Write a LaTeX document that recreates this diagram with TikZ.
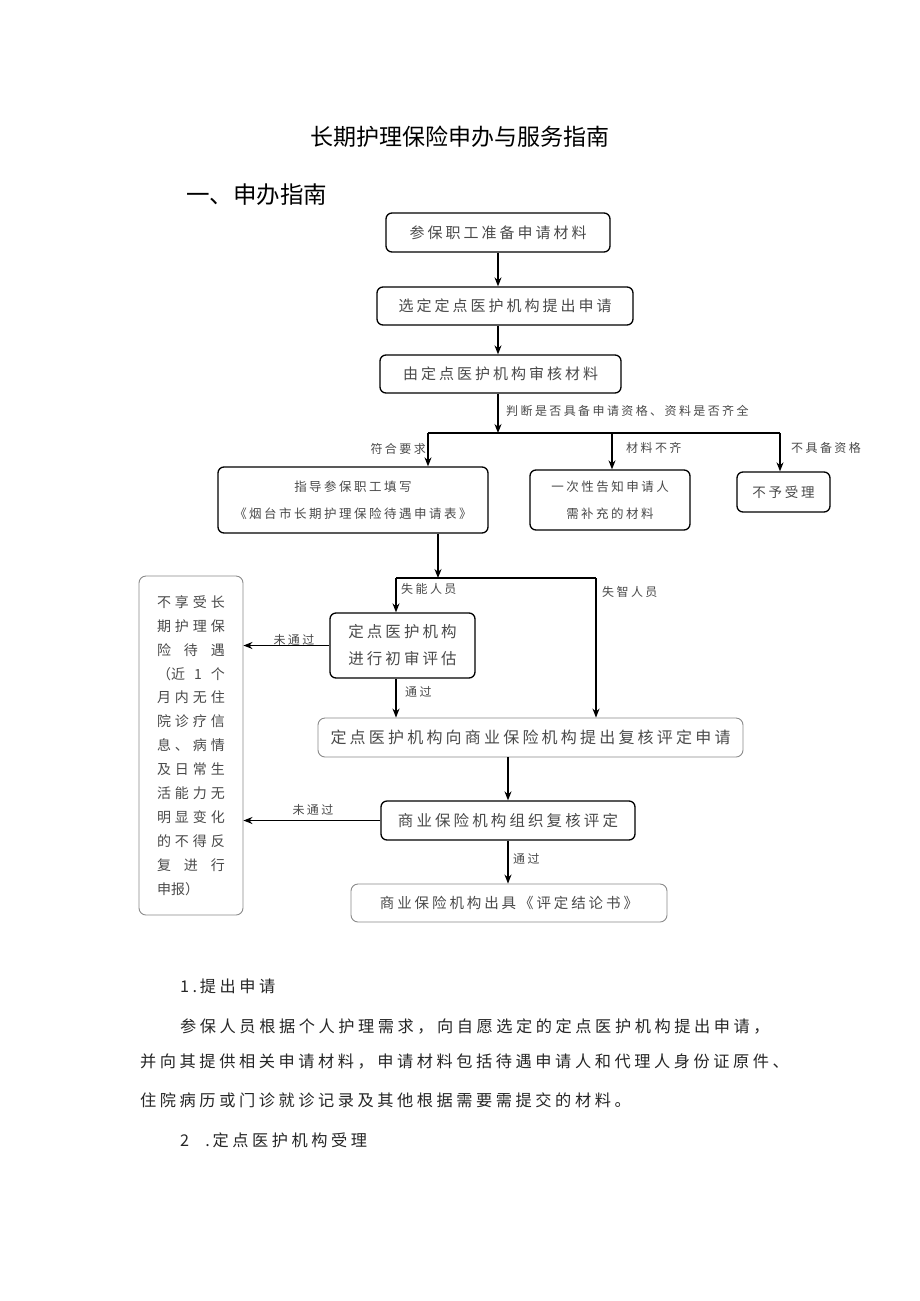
\documentclass[tikz,border=0pt]{standalone}
\usepackage{fontspec}
\setmainfont{Noto Sans CJK SC}
\newfontfamily\cjk{Noto Sans CJK SC}
\newfontfamily\cjkls[LetterSpace=20]{Noto Sans CJK SC}
\newfontfamily\cjkbody[LetterSpace=22]{Noto Sans CJK SC}
\usetikzlibrary{arrows.meta}
\definecolor{txtgray}{HTML}{4A4A4A}
\definecolor{boxgray}{HTML}{8A8A8A}
\definecolor{bodytxt}{HTML}{262626}
\begin{document}
\begin{tikzpicture}[x=1pt,y=-1pt,
  box/.style={draw=black, line width=1.3pt, rounded corners=6pt, align=center,
    text=txtgray, font=\cjkls\fontsize{15}{20}\selectfont, inner sep=0pt},
  sbox/.style={box, font=\cjkls\fontsize{12.5}{27}\selectfont},
  lbox/.style={draw=boxgray, line width=0.9pt, rounded corners=7pt, align=center,
    text=txtgray, font=\cjkls\fontsize{15}{20}\selectfont, inner sep=0pt},
  arr/.style={-{Stealth[length=9pt,width=7pt]}, line width=1.3pt, draw=black},
  ln/.style={line width=1.3pt, draw=black},
  lab/.style={font=\cjkls\fontsize{12}{14}\selectfont, text=txtgray, inner sep=1pt},
  body/.style={font=\cjkbody\fontsize{16.2}{20}\selectfont, text=bodytxt, inner sep=0pt, anchor=west}]
\useasboundingbox (0,0) rectangle (920,1301);
\fill[white] (0,0) rectangle (920,1301);

% headings
\node[font=\cjk\fontsize{23}{26}\selectfont] (title) at (460,137) {长期护理保险申办与服务指南};
\node[font=\cjk\fontsize{23.5}{26}\selectfont, anchor=west, inner sep=0pt] (h1) at (186,195) {一、申办指南};

% boxes
\node[box, minimum width=224, minimum height=39] (b1) at (498,232.5) {参保职工准备申请材料};
\node[box, minimum width=256, minimum height=38] (b2) at (505,306) {选定定点医护机构提出申请};
\node[box, minimum width=241, minimum height=38] (b3) at (500.5,374) {由定点医护机构审核材料};
\node[sbox, minimum width=270, minimum height=66] (b4) at (353,500) {指导参保职工填写\\《烟台市长期护理保险待遇申请表》};
\node[sbox, minimum width=160, minimum height=60] (b5) at (610,500) {一次性告知申请人\\需补充的材料};
\node[box, font=\cjkls\fontsize{13.5}{20}\selectfont, minimum width=93, minimum height=40] (b6) at (783.5,492) {不予受理};
\node[box, font=\cjkls\fontsize{15.5}{27}\selectfont, minimum width=145, minimum height=65] (b7) at (402.5,645.5) {定点医护机构\\进行初审评估};
\node[lbox, font=\cjkls\fontsize{16}{20}\selectfont, minimum width=425, minimum height=39] (b8) at (530.5,737.5) {定点医护机构向商业保险机构提出复核评定申请};
\node[box, font=\cjkls\fontsize{15.5}{20}\selectfont, minimum width=254, minimum height=39] (b9) at (508,820.5) {商业保险机构组织复核评定};
\node[lbox, font=\cjkls\fontsize{14.5}{20}\selectfont, minimum width=316, minimum height=38] (b10) at (509,903) {商业保险机构出具《评定结论书》};
\node[lbox, font=\cjk\fontsize{14}{23.9}\selectfont, minimum width=104, minimum height=339] (nb) at (191,745.5)
 {\makebox[68pt]{不\hfill 享\hfill 受\hfill 长}\\
  \makebox[68pt]{期\hfill 护\hfill 理\hfill 保}\\
  \makebox[68pt]{险\hfill 待\hfill 遇}\\
  \makebox[68pt]{（近\hfill 1\hfill 个}\\
  \makebox[68pt]{月\hfill 内\hfill 无\hfill 住}\\
  \makebox[68pt]{院\hfill 诊\hfill 疗\hfill 信}\\
  \makebox[68pt]{息\hfill 、\hfill 病\hfill 情}\\
  \makebox[68pt]{及\hfill 日\hfill 常\hfill 生}\\
  \makebox[68pt]{活\hfill 能\hfill 力\hfill 无}\\
  \makebox[68pt]{明\hfill 显\hfill 变\hfill 化}\\
  \makebox[68pt]{的\hfill 不\hfill 得\hfill 反}\\
  \makebox[68pt]{复\hfill 进\hfill 行}\\
  \makebox[68pt]{申报）\hfill}};

% junction coordinates
\coordinate (j1) at (498,433);
\coordinate (j1l) at (428,433);
\coordinate (j1m) at (612,433);
\coordinate (j1r) at (780,433);
\coordinate (j2) at (438,578);
\coordinate (j2l) at (396,578);
\coordinate (j2r) at (596,578);

% connectors
\draw[arr] (b1.south) -- (b1.south |- b2.north);
\draw[arr] (b1.south |- b2.south) -- (b1.south |- b3.north);
\draw[arr] (b1.south |- b3.south) -- (j1);
\draw[ln] (j1l) -- (j1r);
\draw[arr] (j1l) -- (j1l |- b4.north);
\draw[arr] (j1m) -- (j1m |- b5.north);
\draw[arr] (j1r) -- (j1r |- b6.north);
\draw[arr] (b4.south -| j2) -- (j2);
\draw[ln] (j2l) -- (j2r);
\draw[arr] (j2l) -- (j2l |- b7.north);
\draw[arr] (j2r) -- (j2r |- b8.north);
\draw[arr] (b7.west) -- (b7.west -| nb.east);
\draw[arr] (b7.south -| j2l) -- (j2l |- b8.north);
\draw[arr] (b9.north |- b8.south) -- (b9.north);
\draw[arr] (b9.west) -- (b9.west -| nb.east);
\draw[arr] (b9.south) -- (b9.south |- b10.north);

% labels
\node[lab, anchor=west] (l1) at (505,411) {判断是否具备申请资格、资料是否齐全};
\node[lab, anchor=east] (l2) at (427,449) {符合要求};
\node[lab, anchor=west] (l3) at (625,448) {材料不齐};
\node[lab, anchor=west] (l4) at (790,448) {不具备资格};
\node[lab, anchor=west] (l5) at (400,589) {失能人员};
\node[lab, anchor=west] (l6) at (601,592) {失智人员};
\node[lab] (l7) at (294,640) {未通过};
\node[lab, anchor=west] (l8) at (404,692) {通过};
\node[lab] (l9) at (313,810) {未通过};
\node[lab, anchor=west] (l10) at (512,859) {通过};

% body text
\node[body] (t1) at (180,986) {1.\,提出申请};
\node[body] (t2) at (180,1026) {参保人员根据个人护理需求，向自愿选定的定点医护机构提出申请，};
\node[body] (t3) at (140,1062) {并向其提供相关申请材料，申请材料包括待遇申请人和代理人身份证原件、};
\node[body] (t4) at (140,1100) {住院病历或门诊就诊记录及其他根据需要需提交的材料。};
\node[body] (t5) at (180,1140) {2\quad.\,定点医护机构受理};
\end{tikzpicture}
\end{document}
